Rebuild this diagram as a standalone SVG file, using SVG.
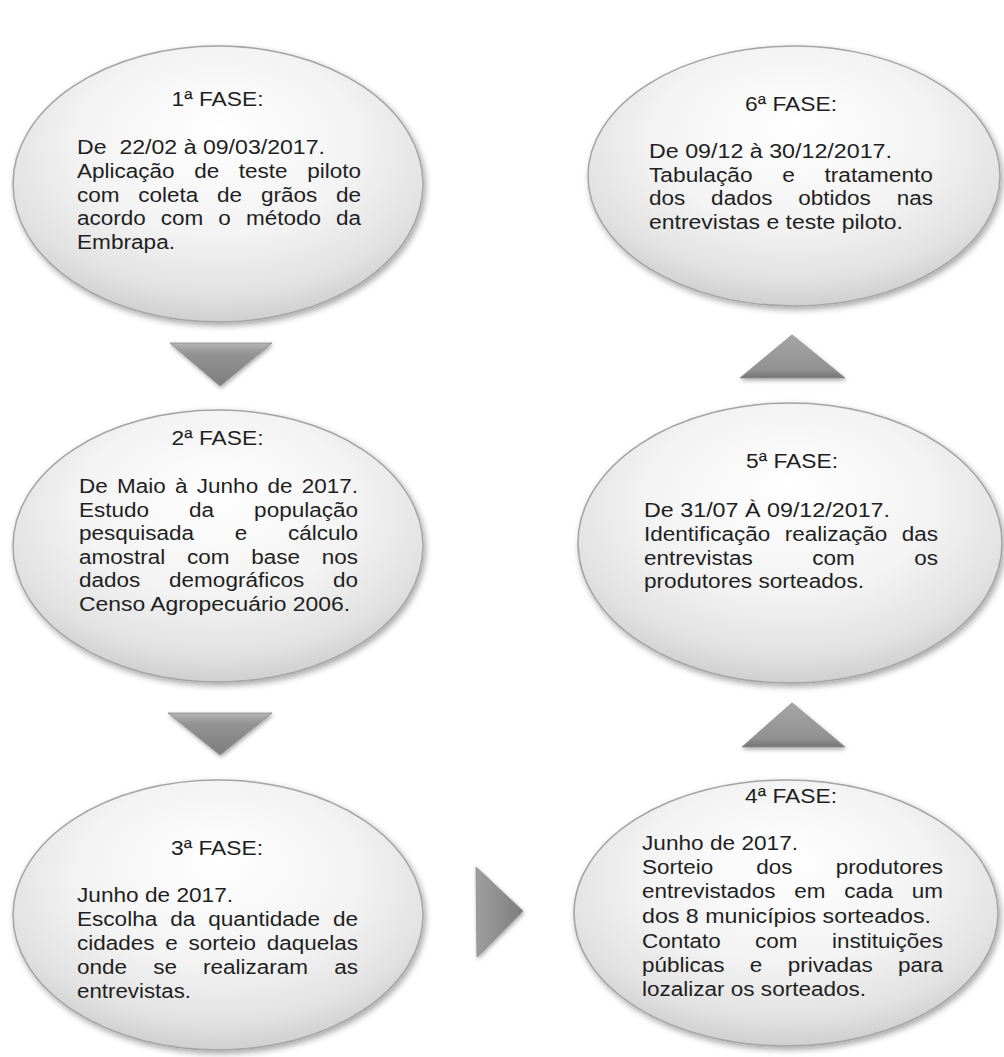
<svg xmlns="http://www.w3.org/2000/svg" width="1004" height="1057" viewBox="0 0 1004 1057">
<defs>
<radialGradient id="eg" cx="0.5" cy="0.38" r="0.62" fx="0.5" fy="0.3">
<stop offset="0" stop-color="#ffffff"/>
<stop offset="0.55" stop-color="#f3f3f3"/>
<stop offset="0.85" stop-color="#e2e2e2"/>
<stop offset="1" stop-color="#cfcfcf"/>
</radialGradient>
<linearGradient id="tgd" x1="0" y1="0" x2="0" y2="1">
<stop offset="0" stop-color="#b4b4b4"/>
<stop offset="0.25" stop-color="#939393"/>
<stop offset="1" stop-color="#7d7d7d"/>
</linearGradient>
<linearGradient id="tgu" x1="0" y1="0" x2="0" y2="1">
<stop offset="0" stop-color="#a6a6a6"/>
<stop offset="0.8" stop-color="#919191"/>
<stop offset="1" stop-color="#747474"/>
</linearGradient>
<linearGradient id="tgr" x1="0" y1="0" x2="1" y2="0">
<stop offset="0" stop-color="#9e9e9e"/>
<stop offset="1" stop-color="#7e7e7e"/>
</linearGradient>
<filter id="sh" x="-10%" y="-10%" width="125%" height="130%">
<feDropShadow dx="2" dy="3" stdDeviation="3" flood-color="#000" flood-opacity="0.35"/>
</filter>
<filter id="sh2" x="-20%" y="-20%" width="150%" height="160%">
<feDropShadow dx="1" dy="2" stdDeviation="2" flood-color="#000" flood-opacity="0.35"/>
</filter>
</defs>
<style>
.node ellipse { fill:url(#eg); stroke:#a4a4a4; stroke-width:1.5; filter:url(#sh); }
.t { font-family:"Liberation Sans", Arial, sans-serif; font-size:20px; fill:#1f1f1f; }
.c { text-anchor:middle; }
.arr { stroke:#8a8a8a; stroke-width:0.8; filter:url(#sh2); }
</style>
<rect width="1004" height="1057" fill="#ffffff"/>

<g id="connectors">
<polygon class="arr" fill="url(#tgd)" points="170,343 272,343 220,386"/>
<polygon class="arr" fill="url(#tgd)" points="168,713 272,713 220,755"/>
<polygon class="arr" fill="url(#tgr)" points="476,867 477,957 523,911"/>
<polygon class="arr" fill="url(#tgu)" points="742,747 845,747 792,703"/>
<polygon class="arr" fill="url(#tgu)" points="740,378 845,378 792,335"/>
</g>

<g id="fase1" class="node">
<ellipse cx="218" cy="184" rx="205" ry="138"/>
<text class="t c" x="217.5" y="106" textLength="92" lengthAdjust="spacingAndGlyphs">1ª FASE:</text>
<text class="t" x="77" y="154" textLength="248" lengthAdjust="spacingAndGlyphs" style="white-space:pre">De  22/02 à 09/03/2017.</text>
<text class="t" x="77" y="178" textLength="284" lengthAdjust="spacingAndGlyphs" style="word-spacing:11.9px">Aplicação de teste piloto</text>
<text class="t" x="77" y="201.5" textLength="284" lengthAdjust="spacingAndGlyphs" style="word-spacing:11.1px">com coleta de grãos de</text>
<text class="t" x="77" y="225" textLength="284" lengthAdjust="spacingAndGlyphs" style="word-spacing:7.8px">acordo com o método da</text>
<text class="t" x="77" y="249" textLength="98" lengthAdjust="spacingAndGlyphs">Embrapa.</text>
</g>

<g id="fase2" class="node">
<ellipse cx="218" cy="546" rx="205" ry="136"/>
<text class="t c" x="217.5" y="445" textLength="92" lengthAdjust="spacingAndGlyphs">2ª FASE:</text>
<text class="t" x="79" y="493" textLength="279" lengthAdjust="spacingAndGlyphs" style="word-spacing:2.7px">De Maio à Junho de 2017.</text>
<text class="t" x="79" y="516.5" textLength="279" lengthAdjust="spacingAndGlyphs" style="word-spacing:30px">Estudo da população</text>
<text class="t" x="79" y="540" textLength="279" lengthAdjust="spacingAndGlyphs" style="word-spacing:30.6px">pesquisada e cálculo</text>
<text class="t" x="79" y="563.5" textLength="279" lengthAdjust="spacingAndGlyphs" style="word-spacing:13.8px">amostral com base nos</text>
<text class="t" x="79" y="587" textLength="279" lengthAdjust="spacingAndGlyphs" style="word-spacing:20px">dados demográficos do</text>
<text class="t" x="79" y="610.5" textLength="271" lengthAdjust="spacingAndGlyphs">Censo Agropecuário 2006.</text>
</g>

<g id="fase3" class="node">
<ellipse cx="218" cy="915" rx="205" ry="135"/>
<text class="t c" x="217" y="855" textLength="92" lengthAdjust="spacingAndGlyphs">3ª FASE:</text>
<text class="t" x="77" y="901.5" textLength="156" lengthAdjust="spacingAndGlyphs">Junho de 2017.</text>
<text class="t" x="77" y="926" textLength="281" lengthAdjust="spacingAndGlyphs" style="word-spacing:5.9px">Escolha da quantidade de</text>
<text class="t" x="77" y="950" textLength="281" lengthAdjust="spacingAndGlyphs" style="word-spacing:4px">cidades e sorteio daquelas</text>
<text class="t" x="77" y="974" textLength="281" lengthAdjust="spacingAndGlyphs" style="word-spacing:17.7px">onde se realizaram as</text>
<text class="t" x="77" y="998" textLength="114" lengthAdjust="spacingAndGlyphs">entrevistas.</text>
</g>

<g id="fase4" class="node">
<ellipse cx="786" cy="913" rx="212" ry="133"/>
<text class="t c" x="791" y="803" textLength="92" lengthAdjust="spacingAndGlyphs">4ª FASE:</text>
<text class="t" x="642" y="850" textLength="156" lengthAdjust="spacingAndGlyphs">Junho de 2017.</text>
<text class="t" x="642" y="874" textLength="301" lengthAdjust="spacingAndGlyphs" style="word-spacing:32.9px">Sorteio dos produtores</text>
<text class="t" x="642" y="898" textLength="301" lengthAdjust="spacingAndGlyphs" style="word-spacing:11.2px">entrevistados em cada um</text>
<text class="t" x="642" y="922.5" textLength="289" lengthAdjust="spacingAndGlyphs">dos 8 municípios sorteados.</text>
<text class="t" x="642" y="947.5" textLength="301" lengthAdjust="spacingAndGlyphs" style="word-spacing:25.1px">Contato com instituições</text>
<text class="t" x="642" y="971.5" textLength="301" lengthAdjust="spacingAndGlyphs" style="word-spacing:17.1px">públicas e privadas para</text>
<text class="t" x="642" y="995.5" textLength="224" lengthAdjust="spacingAndGlyphs">lozalizar os sorteados.</text>
</g>

<g id="fase5" class="node">
<ellipse cx="790" cy="543" rx="212" ry="140"/>
<text class="t c" x="792" y="468" textLength="92" lengthAdjust="spacingAndGlyphs">5ª FASE:</text>
<text class="t" x="644" y="517" textLength="246" lengthAdjust="spacingAndGlyphs">De 31/07 À 09/12/2017.</text>
<text class="t" x="644" y="540.5" textLength="294" lengthAdjust="spacingAndGlyphs" style="word-spacing:7.3px">Identificação realização das</text>
<text class="t" x="644" y="564.5" textLength="294" lengthAdjust="spacingAndGlyphs" style="word-spacing:47.3px">entrevistas com os</text>
<text class="t" x="644" y="588" textLength="220" lengthAdjust="spacingAndGlyphs">produtores sorteados.</text>
</g>

<g id="fase6" class="node">
<ellipse cx="794" cy="176" rx="206" ry="130"/>
<text class="t c" x="791" y="110.5" textLength="92" lengthAdjust="spacingAndGlyphs">6ª FASE:</text>
<text class="t" x="649" y="158" textLength="243" lengthAdjust="spacingAndGlyphs">De 09/12 à 30/12/2017.</text>
<text class="t" x="649" y="181.5" textLength="284" lengthAdjust="spacingAndGlyphs" style="word-spacing:20.5px">Tabulação e tratamento</text>
<text class="t" x="649" y="205" textLength="284" lengthAdjust="spacingAndGlyphs" style="word-spacing:17.4px">dos dados obtidos nas</text>
<text class="t" x="649" y="228.5" textLength="254" lengthAdjust="spacingAndGlyphs">entrevistas e teste piloto.</text>
</g>
</svg>
